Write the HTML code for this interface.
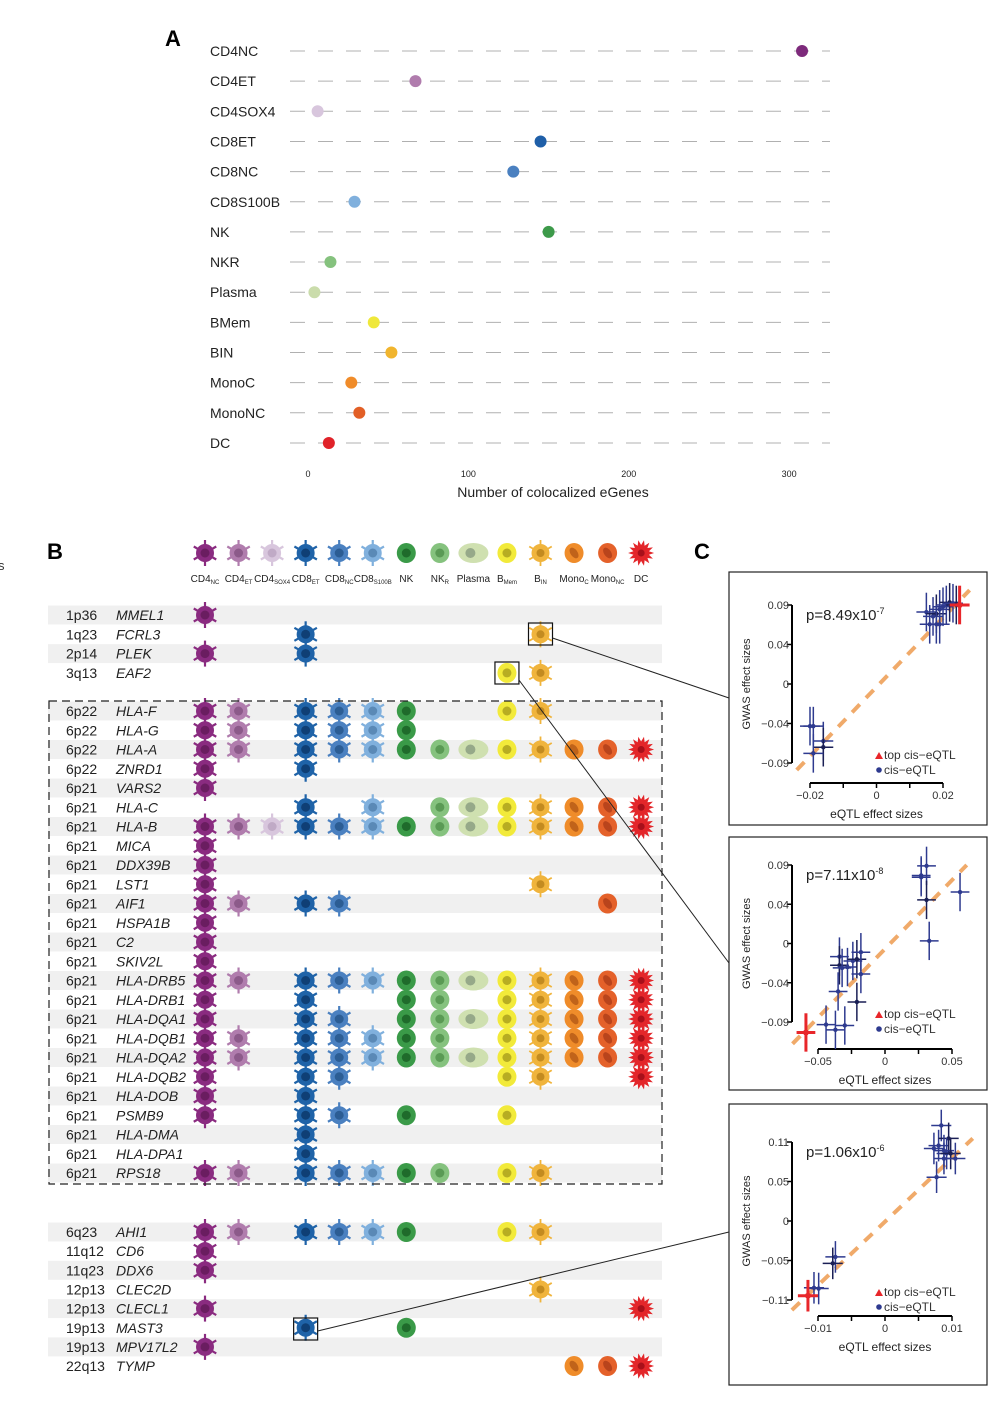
<!DOCTYPE html>
<html><head><meta charset="utf-8">
<style>
body{margin:0;background:#fff;}
svg{display:block;font-family:"Liberation Sans",sans-serif;}
</style></head>
<body>
<svg id="fig" width="1003" height="1412" viewBox="0 0 1003 1412">
<text x="165" y="46" font-size="22" font-weight="bold">A</text>
<text x="47" y="559" font-size="22" font-weight="bold">B</text>
<text x="694" y="559" font-size="22" font-weight="bold">C</text>
<text x="-2" y="570" font-size="13" fill="#333">s</text>
<g id="pa"></g>
<g id="pb"></g>
<g id="pc"></g>
</svg>
<script>
const NS="http://www.w3.org/2000/svg";
function mk(tag,attrs,parent){const e=document.createElementNS(NS,tag);for(const k in attrs)e.setAttribute(k,attrs[k]);if(parent)parent.appendChild(e);return e;}

// ---------- Panel A data ----------
const cellTypes=["CD4NC","CD4ET","CD4SOX4","CD8ET","CD8NC","CD8S100B","NK","NKR","Plasma","BMem","BIN","MonoC","MonoNC","DC"];
const eGeneCounts=[308,67,6,145,128,29,150,14,4,41,52,27,32,13];
const aTicks=[0,100,200,300];
const cellColors=["#7d2a7b","#b07cad","#d8c6dd","#1f5fa8","#4a80c0","#80b0dd","#3d9a4a","#85c27e","#cadcab","#efe83a","#f1b52e","#f08c2a","#e25f26","#e02229"];

const pa=document.getElementById('pa');
const ax=v=>308+v*1.604;
const ay=i=>51+i*30.15;
cellTypes.forEach((c,i)=>{
  const t=mk('text',{x:210,y:ay(i)+5,'font-size':14,fill:'#222'},pa);t.textContent=c;
  
  
  const l=mk('line',{x1:290,x2:830,y1:ay(i),y2:ay(i),stroke:'#b0b0b0','stroke-width':1,'stroke-dasharray':'15 13'},pa);
  
  
  const d=mk('circle',{cx:ax(eGeneCounts[i]),cy:ay(i),r:6,fill:cellColors[i]},pa);
  
  
});
aTicks.forEach(v=>{const t=mk('text',{x:ax(v),y:477,'font-size':9,'text-anchor':'middle',fill:'#222'},pa);t.textContent=v;
  
  });
{const t=mk('text',{x:553,y:497,'font-size':14,'text-anchor':'middle',fill:'#222'},pa);t.textContent="Number of colocalized eGenes";
 
 }

// ---------- Panel B data ----------
const headerMain=["CD4","CD4","CD4","CD8","CD8","CD8","NK","NK","Plasma","B","B","Mono","Mono","DC"];
const headerSub=["NC","ET","SOX4","ET","NC","S100B","","R","","Mem","IN","C","NC",""];
const block1Loci=["1p36","1q23","2p14","3q13"];
const block1Genes=["MMEL1","FCRL3","PLEK","EAF2"];
const block1Cells=[[0],[3,10],[0,3],[9,10]];
const block2Loci=["6p22","6p22","6p22","6p22","6p21","6p21","6p21","6p21","6p21","6p21","6p21","6p21","6p21","6p21","6p21","6p21","6p21","6p21","6p21","6p21","6p21","6p21","6p21","6p21","6p21"];
const block2Genes=["HLA-F","HLA-G","HLA-A","ZNRD1","VARS2","HLA-C","HLA-B","MICA","DDX39B","LST1","AIF1","HSPA1B","C2","SKIV2L","HLA-DRB5","HLA-DRB1","HLA-DQA1","HLA-DQB1","HLA-DQA2","HLA-DQB2","HLA-DOB","PSMB9","HLA-DMA","HLA-DPA1","RPS18"];
const block2Cells=[[0,1,3,4,5,6,9,10],[0,1,3,4,5,6],[0,1,3,4,5,6,7,8,9,10,11,12,13],[0,3],[0],[3,5,7,8,9,10,11,12,13],[0,1,2,3,4,5,6,7,8,9,10,11,12,13],[0],[0],[0,10],[0,1,3,4,12],[0],[0],[0],[0,1,3,4,5,6,7,8,9,10,11,12,13],[0,3,6,7,9,10,11,12,13],[0,3,4,6,7,8,9,10,11,12,13],[0,1,3,4,5,6,7,9,10,11,12,13],[0,1,3,4,5,6,7,8,9,10,11,12,13],[0,3,4,9,10,13],[0,3],[0,3,4,6,9],[3],[3],[0,1,3,4,5,6,7,9,10]];
const block3Loci=["6q23","11q12","11q23","12p13","12p13","19p13","19p13","22q13"];
const block3Genes=["AHI1","CD6","DDX6","CLEC2D","CLECL1","MAST3","MPV17L2","TYMP"];
const block3Cells=[[0,1,3,4,5,6,9,10],[0],[0],[10],[0,13],[3,6],[0],[11,12,13]];

const pb=document.getElementById('pb');
const colX=i=>205+i*33.55;
const iconColors=["#8a2b80","#b07cad","#d8c6dd","#1f63a8","#4a80c0","#80b0dd","#3a9a48","#85c27e","#cfe0b0","#f2ea3a","#f0b43c","#ef8c2a","#e4612a","#e3262a"];
const nucColors=["#6a1d60","#8c5a8a","#c0aac6","#0f3f75","#2c5d94","#5a89b6","#1f6b2b","#5a9a55","#96a989","#b7ad22","#c38b20","#c0631a","#b9441c","#a8101a"];
function icon(i,x,y,g){
  const c=iconColors[i],n=nucColors[i];
  if(i<=5){
    for(let k=0;k<6;k++){const a=Math.PI/3*k+Math.PI/2;
      mk('line',{x1:x,y1:y,x2:x+13*Math.cos(a),y2:y+13*Math.sin(a),stroke:c,'stroke-width':2.2},g);}
    mk('circle',{cx:x,cy:y,r:9,fill:c},g);
    mk('circle',{cx:x,cy:y,r:4.5,fill:n},g);
  }else if(i===8){
    mk('ellipse',{cx:x,cy:y,rx:15,ry:10,fill:c},g);
    mk('circle',{cx:x-3,cy:y,r:5,fill:n},g);
  }else if(i===13){
    let p='';for(let k=0;k<28;k++){const a=Math.PI*2*k/28,r=(k%2?8:13);p+=(k?'L':'M')+(x+r*Math.cos(a)).toFixed(1)+','+(y+r*Math.sin(a)).toFixed(1);}
    mk('path',{d:p+'Z',fill:c},g);
    mk('circle',{cx:x,cy:y,r:3.5,fill:n},g);
  }else if(i===10){
    for(let k=0;k<6;k++){const a=Math.PI/3*k+Math.PI/2;
      mk('line',{x1:x,y1:y,x2:x+13*Math.cos(a),y2:y+13*Math.sin(a),stroke:c,'stroke-width':1.8},g);}
    mk('circle',{cx:x,cy:y,r:9,fill:c},g);
    mk('circle',{cx:x,cy:y,r:4,fill:n},g);
  }else{
    mk('ellipse',{cx:x,cy:y,rx:9.5,ry:10,fill:c},g);
    if(i>=11) mk('ellipse',{cx:x,cy:y,rx:3.5,ry:6,fill:n,transform:`rotate(-35 ${x} ${y})`},g);
    else mk('circle',{cx:x,cy:y,r:4.5,fill:n},g);
  }
}
headerMain.forEach((h,i)=>{
  const g=mk('g',{},pb);
  
  
  icon(i,colX(i),553,g);
  const t=mk('text',{x:colX(i),y:582,'font-size':10,'text-anchor':'middle',fill:'#222'},pb);
  
  
  t.textContent=h;
  if(headerSub[i]){const s=mk('tspan',{'font-size':6,dy:2},t);s.textContent=headerSub[i];}
});
function block(loci,genes,cells,y0,step){
  loci.forEach((l,r)=>{
    const y=y0+r*step;
    if(r%2===0){const s=mk('rect',{x:48,y:y-9.5,width:614,height:19,fill:'#f0f0f0'},pb);
      
      }
  });
  loci.forEach((l,r)=>{
    const y=y0+r*step;
    const t1=mk('text',{x:66,y:y+5,'font-size':14,fill:'#222'},pb);t1.textContent=l;
    
    
    const t2=mk('text',{x:116,y:y+5,'font-size':14,'font-style':'italic',fill:'#222'},pb);t2.textContent=genes[r];
    
    
    const g=mk('g',{},pb);
    
    
    cells[r].forEach(i=>icon(i,colX(i),y,g));
  });
}
block(block1Loci,block1Genes,block1Cells,615,19.3);
block(block2Loci,block2Genes,block2Cells,711,19.25);
block(block3Loci,block3Genes,block3Cells,1232,19.15);
{const r=mk('rect',{x:49,y:701,width:613,height:483,fill:'none',stroke:'#222','stroke-width':1.2,'stroke-dasharray':'8 5'},pb);
 
 }
[[colX(10),634],[colX(9),673],[colX(3),1329]].forEach(([x,y])=>{const r=mk('rect',{x:x-12,y:y-11,width:24,height:22,fill:'none',stroke:'#111','stroke-width':1.2},pb);
 
 });
[[colX(10)+12,638,729,698],[colX(9)+12,680,729,963],[colX(3)+12,1331,729,1232]].forEach(([a,b,c,d])=>{const l=mk('line',{x1:a,y1:b,x2:c,y2:d,stroke:'#222','stroke-width':1},pb);
 
 });

// ---------- Panel C data ----------
const c1Eqtl=[0.015,0.017,0.016,0.018,0.019,0.020,0.021,0.022,0.018,0.019,0.023,0.024,-0.020,-0.019,-0.016,-0.016,-0.019];
const c1Gwas=[0.082,0.077,0.068,0.080,0.085,0.088,0.090,0.093,0.068,0.068,0.092,0.090,-0.048,-0.048,-0.065,-0.072,-0.079];
const c1Top=[0.025,0.090];
const c2Eqtl=[0.027,0.027,0.031,0.031,0.033,0.056,-0.034,-0.034,-0.032,-0.028,-0.024,-0.021,-0.018,-0.018,-0.035,-0.021,-0.037,-0.030,-0.044];
const c2Gwas=[0.078,0.076,0.089,0.050,0.003,0.059,-0.015,-0.025,-0.028,-0.027,-0.020,-0.018,-0.010,-0.035,-0.055,-0.067,-0.099,-0.094,-0.093];
const c2Top=[-0.059,-0.102];
const c3Eqtl=[0.0084,0.008,0.0073,0.0095,0.0088,0.0092,0.0088,0.0098,0.0105,0.0077,-0.0074,-0.0078,-0.0099,-0.0106];
const c3Gwas=[0.133,0.105,0.101,0.115,0.098,0.094,0.087,0.094,0.087,0.061,-0.05,-0.059,-0.094,-0.093];
const c3Top=[-0.0115,-0.104];
const pValues=["8.49x10","7.11x10","1.06x10"];
const pExps=["-7","-8","-6"];

const pc=document.getElementById('pc');
const panels=[
 {box:[729,572,258,253],yAx:792,yTop:605,yBot:763,xAxY:783,xL:810,xR:943,xMin:-0.02,xMax:0.02,yMin:-0.09,yMax:0.09,
  yt:["0.09","0.04","0","\u22120.04","\u22120.09"],xt:["\u22120.02","0","0.02"],ex:c1Eqtl,gy:c1Gwas,top:c1Top,exErr:0.003,gyErr:0.022,line:[-0.024,-0.098,0.028,0.107]},
 {box:[729,837,258,253],yAx:792,yTop:865,yBot:1022,xAxY:1049,xL:818,xR:952,xMin:-0.05,xMax:0.05,yMin:-0.09,yMax:0.09,
  yt:["0.09","0.04","0","\u22120.04","\u22120.09"],xt:["\u22120.05","0","0.05"],ex:c2Eqtl,gy:c2Gwas,top:c2Top,exErr:0.007,gyErr:0.022,line:[-0.069,-0.115,0.061,0.09]},
 {box:[729,1104,258,281],yAx:792,yTop:1142,yBot:1300,xAxY:1316,xL:818,xR:952,xMin:-0.01,xMax:0.01,yMin:-0.11,yMax:0.11,
  yt:["0.11","0.05","0","\u22120.05","\u22120.11"],xt:["\u22120.01","0","0.01"],ex:c3Eqtl,gy:c3Gwas,top:c3Top,exErr:0.0015,gyErr:0.022,line:[-0.0139,-0.124,0.0131,0.115]}
];
panels.forEach((P,k)=>{
  const g=mk('g',{},pc);
  
  
  mk('rect',{x:P.box[0],y:P.box[1],width:P.box[2],height:P.box[3],fill:'#fff',stroke:'#222','stroke-width':1.2},g);
  const X=v=>P.xL+(v-P.xMin)/(P.xMax-P.xMin)*(P.xR-P.xL);
  const Y=v=>P.yBot-(v-P.yMin)/(P.yMax-P.yMin)*(P.yBot-P.yTop);
  mk('line',{x1:P.yAx,x2:P.yAx,y1:P.yTop,y2:P.yBot,stroke:'#000','stroke-width':2},g);
  mk('line',{x1:P.xL,x2:P.xR,y1:P.xAxY,y2:P.xAxY,stroke:'#000','stroke-width':2},g);
  P.yt.forEach((t,i)=>{const y=P.yTop+i*(P.yBot-P.yTop)/4;
    mk('line',{x1:P.yAx-5,x2:P.yAx,y1:y,y2:y,stroke:'#000','stroke-width':1.5},g);
    const e=mk('text',{x:P.yAx-3,y:y+4,'font-size':11,'text-anchor':'end',fill:'#333'},g);e.textContent=t;
    
    });
  for(let i=0;i<5;i++){const x=P.xL+i*(P.xR-P.xL)/4;mk('line',{x1:x,x2:x,y1:P.xAxY,y2:P.xAxY+5,stroke:'#000','stroke-width':1.5},g);}
  P.xt.forEach((t,i)=>{const x=P.xL+i*(P.xR-P.xL)/2;
    const e=mk('text',{x:x,y:P.xAxY+16,'font-size':11,'text-anchor':'middle',fill:'#333'},g);e.textContent=t;
    
    });
  const xt=mk('text',{x:(P.xL+P.xR)/2,y:P.xAxY+35,'font-size':12,'text-anchor':'middle',fill:'#222'},g);xt.textContent="eQTL effect sizes";
  
  
  const cy=(P.yTop+P.yBot)/2;
  const yt=mk('text',{x:750,y:cy,'font-size':11,'text-anchor':'middle',fill:'#222',transform:`rotate(-90 750 ${cy})`},g);yt.textContent="GWAS effect sizes";
  
  
  const L=P.line;
  const rl=mk('line',{x1:X(L[0]),y1:Y(L[1]),x2:X(L[2]),y2:Y(L[3]),stroke:'#f0aa6a','stroke-width':4,'stroke-dasharray':'11 9'},g);
  
  
  P.ex.forEach((v,i)=>{const x=X(v),y=Y(P.gy[i]);const col=(i%4===3)?'#1a1f55':'#2e3a8f';
    mk('line',{x1:X(v-P.exErr),x2:X(v+P.exErr),y1:y,y2:y,stroke:col,'stroke-width':1.5},g);
    mk('line',{x1:x,x2:x,y1:Y(P.gy[i]-P.gyErr),y2:Y(P.gy[i]+P.gyErr),stroke:col,'stroke-width':1.5},g);
    const d=mk('circle',{cx:x,cy:y,r:2.2,fill:col},g);
    
    });
  {const x=X(P.top[0]),y=Y(P.top[1]);
    mk('line',{x1:X(P.top[0]-P.exErr),x2:X(P.top[0]+P.exErr),y1:y,y2:y,stroke:'#e8262a','stroke-width':3},g);
    mk('line',{x1:x,x2:x,y1:Y(P.top[1]-P.gyErr),y2:Y(P.top[1]+P.gyErr),stroke:'#e8262a','stroke-width':3},g);
    const d=mk('circle',{cx:x,cy:y,r:3,fill:'#e8262a'},g);
    
    }
  const pt=mk('text',{x:806,y:P.yTop+15,'font-size':15,fill:'#222'},g);pt.textContent="p="+pValues[k];
  
  
  const sp=mk('tspan',{'font-size':9,dy:-6},pt);sp.textContent=pExps[k];
  const ly=P.yBot-5;
  mk('path',{d:`M${875},${ly+1} l4,-7 l4,7z`,fill:'#e8262a'},g);
  const l1=mk('text',{x:884,y:ly+1,'font-size':12,fill:'#333'},g);l1.textContent="top cis\u2212eQTL";
  
  
  mk('circle',{cx:879,cy:ly+12,r:2.8,fill:'#2e3a8f'},g);
  const l2=mk('text',{x:884,y:ly+16,'font-size':12,fill:'#333'},g);l2.textContent="cis\u2212eQTL";
  
  
});
</script>
</body></html>
